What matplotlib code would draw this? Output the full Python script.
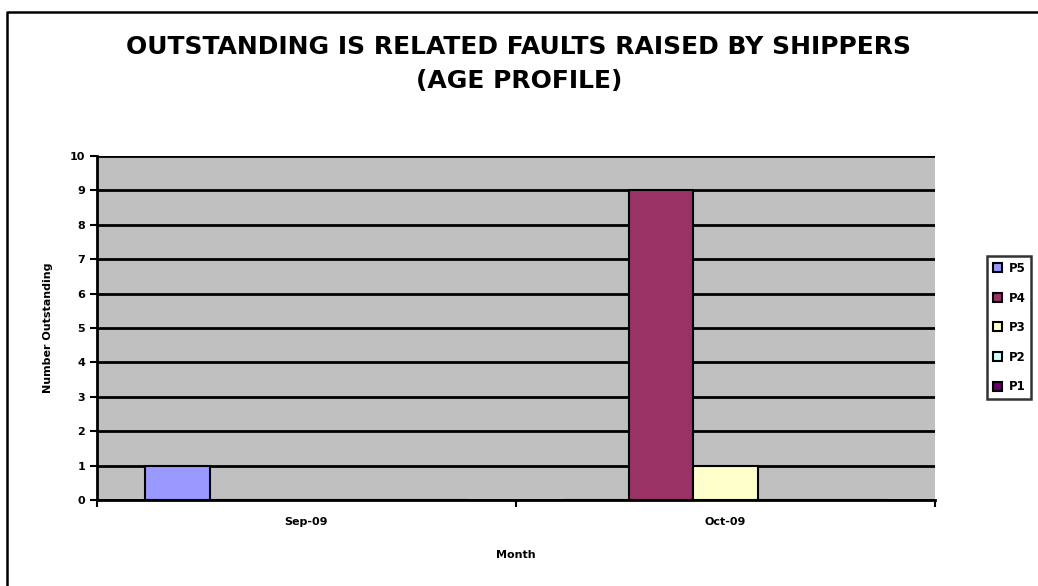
import numpy as np
import matplotlib.pyplot as plt
from matplotlib.lines import Line2D

months = ['Sep-09', 'Oct-09']
series = ['P5', 'P4', 'P3', 'P2', 'P1']
values = {
    'P5': [1, 0],
    'P4': [0, 9],
    'P3': [0, 1],
    'P2': [0, 0],
    'P1': [0, 0],
}
colors = ['#9999FF', '#993366', '#FFFFCC', '#CCFFFF', '#660066']

fig = plt.figure(figsize=(10.38, 5.86), dpi=100)
# chart frame: only left and top edges are inside the picture
fig.lines.append(Line2D([0.0063, 0.0063, 1.0], [0.0, 0.9795, 0.9795],
                        transform=fig.transFigure, color='black', linewidth=1.8))

ax = fig.add_axes([0.0934, 0.1468, 0.8074, 0.587])
ax.set_facecolor('#C0C0C0')

# clustered bars, excel style gap width 150%
n = len(series)
bw = 1.0 / (n + 1.5)
x = np.arange(len(months))
for i, (s, c) in enumerate(zip(series, colors)):
    off = -0.5 * n * bw + (i + 0.5) * bw
    ax.bar(x + off, values[s], width=bw, color=c, edgecolor='black',
           linewidth=1.5, label=s, zorder=3)

ax.set_xlim(-0.5, len(months) - 0.5)
ax.set_ylim(0, 10)
ax.set_yticks(range(0, 11))
ax.set_yticklabels([str(v) for v in range(0, 11)], fontsize=8, fontweight='heavy')
ax.yaxis.grid(True, color='black', linewidth=2, zorder=1)
ax.set_axisbelow(True)

ax.set_xticks(x)
ax.set_xticklabels(months, fontsize=8, fontweight='heavy')
ax.tick_params(axis='x', length=0, pad=12)
ax.set_xticks([-0.5, 0.5, 1.5], minor=True)
ax.tick_params(axis='x', which='minor', length=5, width=1.5, direction='out')
ax.tick_params(axis='y', length=5, width=1.5, direction='out')

for sp in ['top', 'right']:
    ax.spines[sp].set_visible(False)
for sp in ['left', 'bottom']:
    ax.spines[sp].set_linewidth(2)

ax.set_xlabel('Month', fontsize=8, fontweight='heavy', labelpad=17)
ax.set_ylabel('Number Outstanding', fontsize=8, fontweight='heavy', labelpad=12)

fig.text(0.5, 0.919, 'OUTSTANDING IS RELATED FAULTS RAISED BY SHIPPERS',
         ha='center', va='center', fontsize=18, fontweight='heavy')
fig.text(0.5, 0.862, '(AGE PROFILE)', ha='center', va='center',
         fontsize=18, fontweight='heavy')

leg = fig.legend(loc='center left', bbox_to_anchor=(0.951, 0.441),
                 prop={'weight': 'heavy', 'size': 8.5}, frameon=True, fancybox=False,
                 edgecolor='black', handlelength=0.8, handleheight=0.8,
                 handletextpad=0.5, borderpad=0.5, borderaxespad=0,
                 labelspacing=1.4)
leg.get_frame().set_linewidth(1.8)

fig.savefig('out.png', dpi=100)
